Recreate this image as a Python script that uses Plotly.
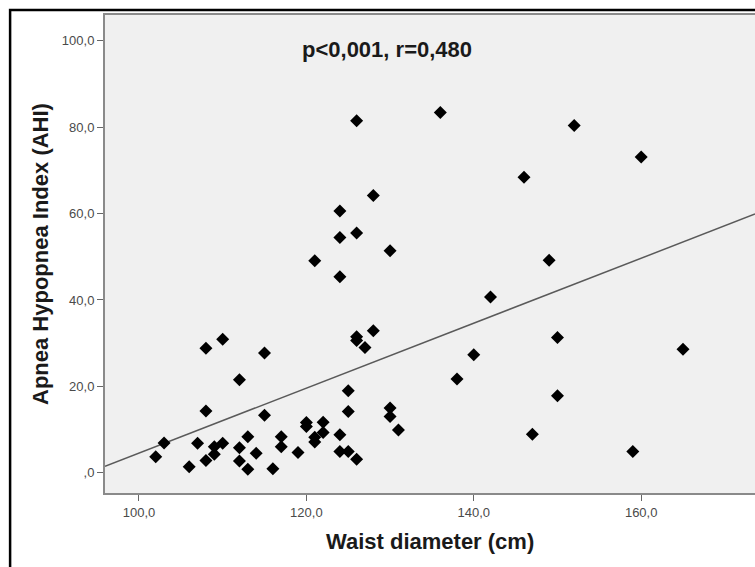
import plotly.graph_objects as go

# Waist diameter (cm) and apnea-hypopnea index per patient
waist = [102, 103, 106, 107, 108, 108, 108, 109, 109, 110,
         110, 112, 112, 112, 113, 113, 114, 115, 115, 116,
         117, 117, 119, 120, 120, 121, 121, 121, 122, 122,
         124, 124, 124, 124, 124, 125, 125, 125, 126, 126,
         126, 126, 127, 128, 128, 126, 130, 130, 130, 131,
         136, 138, 140, 142, 146, 147, 149, 150, 150, 152,
         159, 160, 165]
ahi = [3.7, 6.9, 1.4, 6.8, 2.8, 14.3, 28.8, 6.0, 4.3, 6.8,
       30.9, 21.5, 5.8, 2.7, 8.3, 0.8, 4.5, 27.7, 13.3, 0.9,
       8.3, 6.0, 4.7, 11.6, 10.7, 8.2, 7.1, 49.1, 11.7, 9.3,
       60.6, 54.5, 45.4, 8.8, 4.9, 19.0, 14.2, 4.9, 81.5, 55.5,
       31.5, 30.6, 29.0, 32.9, 64.2, 3.1, 51.4, 15.0, 13.0, 9.9,
       83.4, 21.7, 27.3, 40.7, 68.4, 8.9, 49.2, 31.3, 17.8, 80.4,
       4.9, 73.1, 28.6]

# Linear fit line (AHI = intercept + slope * waist)
fit_intercept = -70.65
fit_slope = 0.752

x_ticks = [100, 120, 140, 160]
x_tick_text = ["100,0", "120,0", "140,0", "160,0"]
y_ticks = [0, 20, 40, 60, 80, 100]
y_tick_text = [",0", "20,0", "40,0", "60,0", "80,0", "100,0"]

x_range = [95.94, 173.6]
y_range = [-4.7, 106.0]

stat_text = "p<0,001, r=0,480"
x_title = "Waist diameter (cm)"
y_title = "Apnea Hypopnea Index (AHI)"

fig = go.Figure()

fig.add_trace(go.Scatter(
    x=x_range,
    y=[fit_intercept + fit_slope * v for v in x_range],
    mode="lines",
    line=dict(color="#5a5a5a", width=1.5),
    hoverinfo="skip",
    showlegend=False,
))

fig.add_trace(go.Scatter(
    x=waist, y=ahi,
    mode="markers",
    marker=dict(symbol="diamond", size=10, color="black",
                line=dict(width=0)),
    showlegend=False,
))

tick_font = dict(family="Liberation Sans, Arial, sans-serif", size=13, color="#4a4a4a")
title_font = dict(family="Liberation Sans, Arial, sans-serif", size=22, color="#1a1a1a", weight=700)

fig.update_xaxes(
    range=x_range, tickvals=x_ticks, ticktext=x_tick_text,
    ticks="outside", ticklen=6, tickcolor="#666666", tickwidth=1,
    showline=True, linecolor="#8a8a8a", linewidth=2, mirror=True,
    showgrid=False, zeroline=False, tickfont=tick_font,
)
fig.update_yaxes(
    range=y_range, tickvals=y_ticks, ticktext=y_tick_text,
    ticks="outside", ticklen=6, tickcolor="#666666", tickwidth=1,
    showline=True, linecolor="#8a8a8a", linewidth=2, mirror=False,
    showgrid=False, zeroline=False, tickfont=tick_font,
)

fig.update_layout(
    width=755, height=567,
    margin=dict(l=105, r=0, t=15, b=74),
    paper_bgcolor="white",
    plot_bgcolor="#f0f0f0",
    annotations=[
        dict(text=stat_text, x=129.6, y=97.9, xref="x", yref="y",
             showarrow=False, xanchor="center", yanchor="middle",
             font=title_font),
        dict(text=x_title, x=0.5, y=-0.1025, xref="paper", yref="paper",
             showarrow=False, xanchor="center", yanchor="middle",
             font=title_font),
        dict(text=y_title, x=-0.1, y=0.5, xref="paper", yref="paper",
             showarrow=False, xanchor="center", yanchor="middle",
             textangle=-90, font=title_font),
    ],
    shapes=[
        # outer black frame around the whole graphic
        dict(type="rect", xref="paper", yref="paper",
             x0=-0.146, x1=1.2, y0=-0.3, y1=1.0105,
             line=dict(color="black", width=2.5), fillcolor="rgba(0,0,0,0)",
             layer="above"),
    ],
)

fig.write_html("out.html")
